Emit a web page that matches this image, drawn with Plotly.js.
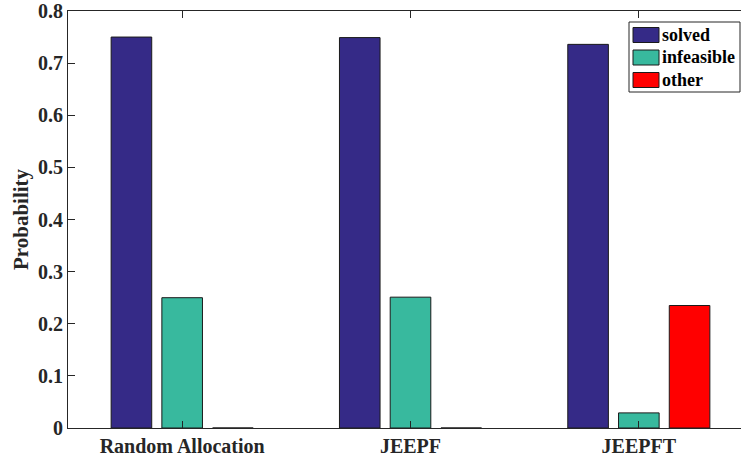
<!DOCTYPE html>
<html>
<head>
<meta charset="utf-8">
<script src="https://cdn.plot.ly/plotly-3.0.1.min.js"></script>
<style>
html, body { margin: 0; padding: 0; overflow: hidden; background: #fff; }
#chart { width: 760px; height: 459px; }
</style>
</head>
<body>
<div id="chart"></div>
<script>
const categories = ["Random Allocation", "JEEPF", "JEEPFT"];
const seriesNames = ["solved", "infeasible", "other"];
const solved = [0.750, 0.749, 0.736];
const infeasible = [0.250, 0.251, 0.029];
const other = [0.0, 0.0, 0.235];
const yTicks = [0, 0.1, 0.2, 0.3, 0.4, 0.5, 0.6, 0.7, 0.8];
const colors = ["#352a87", "#38b99e", "#ff0000"];

const W = 760, H = 459;
const M = {l: 68, r: 7, t: 11, b: 31};
const PW = W - M.l - M.r, PH = H - M.t - M.b;
const px2x = p => (p - M.l) / PW;
const py2y = p => (H - M.b - p) / PH;

const FONT = "Liberation Serif, Times New Roman, serif";
const TXT = "#262626";

const seriesVals = [solved, infeasible, other];
const traces = seriesVals.map((vals, i) => ({
  type: "bar",
  name: seriesNames[i],
  x: categories,
  y: vals,
  marker: {color: colors[i], line: {color: "#1a1a1a", width: 1}},
  showlegend: false,
  hoverinfo: "skip"
}));

// custom MATLAB-like legend
const shapes = [{
  type: "rect", xref: "paper", yref: "paper",
  x0: px2x(629), x1: px2x(740), y0: py2y(92), y1: py2y(22),
  line: {color: "#262626", width: 1}, fillcolor: "#ffffff", layer: "above"
}];
const annotations = [];
const rowY = [35, 57.5, 80];
seriesNames.forEach((n, i) => {
  shapes.push({
    type: "rect", xref: "paper", yref: "paper",
    x0: px2x(633), x1: px2x(659), y0: py2y(rowY[i] + 7.5), y1: py2y(rowY[i] - 7.5),
    line: {color: "#1a1a1a", width: 1}, fillcolor: colors[i], layer: "above"
  });
  annotations.push({
    xref: "paper", yref: "paper", x: px2x(660), y: py2y(rowY[i]),
    xanchor: "left", yanchor: "middle", showarrow: false,
    text: n, font: {family: FONT, size: 18, weight: "bold", color: "#000"}
  });
});

const layout = {
  width: W, height: H,
  margin: M,
  paper_bgcolor: "#fff", plot_bgcolor: "#fff",
  barmode: "group", bargap: 0.3333, bargroupgap: 0.2,
  showlegend: false,
  font: {family: FONT, color: TXT},
  xaxis: {
    type: "category", range: [-0.5, 2.5],
    showline: true, linecolor: "#262626", linewidth: 1, mirror: "ticks",
    ticks: "inside", ticklen: 7, tickcolor: "#262626",
    showgrid: false, zeroline: false,
    tickfont: {family: FONT, size: 20, weight: "bold", color: TXT},
    fixedrange: true
  },
  yaxis: {
    range: [0, 0.8], tickvals: yTicks,
    showline: true, linecolor: "#262626", linewidth: 1, mirror: "ticks",
    ticks: "inside", ticklen: 7, tickcolor: "#262626",
    showgrid: false, zeroline: false,
    tickfont: {family: FONT, size: 20, weight: "bold", color: TXT},
    title: {text: "Probability", standoff: 3, font: {family: FONT, size: 21, weight: "bold", color: TXT}},
    fixedrange: true
  },
  shapes: shapes,
  annotations: annotations
};

Plotly.newPlot("chart", traces, layout, {displayModeBar: false, staticPlot: true});
</script>
</body>
</html>
